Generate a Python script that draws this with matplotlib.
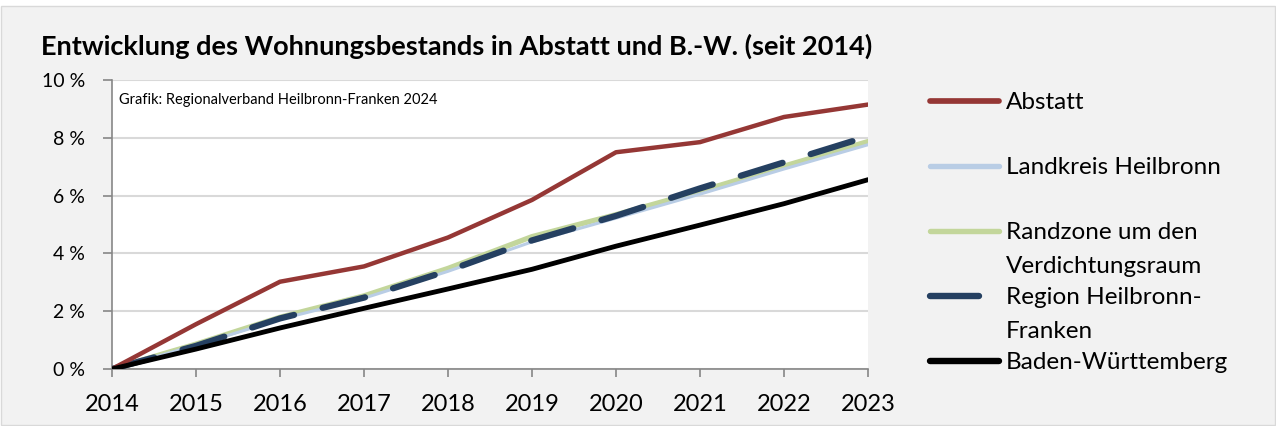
import matplotlib
matplotlib.use("Agg")
import matplotlib.pyplot as plt
from matplotlib.patches import Rectangle

years = [2014, 2015, 2016, 2017, 2018, 2019, 2020, 2021, 2022, 2023]
abstatt = [0.0, 1.55, 3.02, 3.55, 4.55, 5.85, 7.5, 7.85, 8.72, 9.15]
landkreis = [0.0, 0.82, 1.72, 2.45, 3.38, 4.4, 5.22, 6.05, 6.92, 7.76]
randzone = [0.0, 0.86, 1.79, 2.53, 3.48, 4.58, 5.34, 6.15, 7.02, 7.87]
region = [0.0, 0.8, 1.75, 2.47, 3.4, 4.45, 5.3, 6.25, 7.15, 8.05]
bw = [0.0, 0.69, 1.42, 2.1, 2.77, 3.45, 4.25, 4.98, 5.72, 6.55]
y_ticks = [0, 2, 4, 6, 8, 10]

series_labels = ["Abstatt", "Landkreis Heilbronn", "Randzone um den\nVerdichtungsraum",
                 "Region Heilbronn-\nFranken", "Baden-Württemberg"]

C_RED = "#953735"
C_LBLUE = "#b9cde5"
C_GREEN = "#c3d69b"
C_NAVY = "#254061"
C_BLACK = "#000000"
BG = "#f2f2f2"

plt.rcParams["font.family"] = ["Lato", "DejaVu Sans"]

W, H = 1276, 426
fig = plt.figure(figsize=(W / 100, H / 100), dpi=100, facecolor="white")

# chart frame (Excel chart area)
frame = fig.add_axes([0, 0, 1, 1], zorder=-10)
frame.set_xlim(0, W)
frame.set_ylim(H, 0)
frame.axis("off")
frame.add_patch(Rectangle((1, 6), W - 2, H - 7, facecolor=BG, edgecolor="#d9d9d9", lw=1))

ax = fig.add_axes([112 / W, 1 - 369 / H, (868 - 112) / W, (369 - 80) / H])
ax.set_facecolor("white")

ax.plot(years, abstatt, color=C_RED, lw=3.2, solid_capstyle="round", zorder=5)
ax.plot(years, landkreis, color=C_LBLUE, lw=2.2, solid_capstyle="round", zorder=3)
ax.plot(years, randzone, color=C_GREEN, lw=3.8, solid_capstyle="round", zorder=2)
ax.plot(years, region, color=C_NAVY, lw=4.5, dashes=(7.0, 4.7), dash_capstyle="round", zorder=4)
ax.plot(years, bw, color=C_BLACK, lw=3.5, solid_capstyle="round", zorder=6)

ax.set_xlim(years[0], years[-1])
ax.set_ylim(0, 10)
ax.set_xticks(years)
ax.set_yticks(y_ticks)
ax.set_yticklabels([f"{v} %" for v in y_ticks])
ax.grid(axis="y", color="#d9d9d9", lw=1.5, zorder=0)
ax.set_axisbelow(True)
for s in ["top", "right"]:
    ax.spines[s].set_visible(False)
for s in ["left", "bottom"]:
    ax.spines[s].set_color("#878787")
    ax.spines[s].set_linewidth(1.2)
ax.tick_params(axis="y", length=6.5, width=1.2, color="#878787", labelsize=14, pad=13)
ax.tick_params(axis="x", length=6, width=1.2, color="#878787", labelsize=17, pad=12)

ax.text(7 / 756, 1 - 24 / 289, "Grafik: Regionalverband Heilbronn-Franken 2024", transform=ax.transAxes,
        fontsize=10.5, va="baseline", ha="left")

fig.text(41 / W, 1 - 54.3 / H, "Entwicklung des Wohnungsbestands in Abstatt und B.-W. (seit 2014)",
         fontsize=19.5, fontweight="bold", ha="left", va="baseline")

# manual legend (Excel-style: handle aligned with first text line)
lax = fig.add_axes([0, 0, 1, 1])
lax.set_xlim(0, W)
lax.set_ylim(H, 0)
lax.axis("off")
leg_y = [101, 166, 231, 296, 361]
leg_style = [
    dict(color=C_RED, lw=4.1),
    dict(color=C_LBLUE, lw=3.9),
    dict(color=C_GREEN, lw=3.9),
    dict(color=C_NAVY, lw=4.6),
    dict(color=C_BLACK, lw=4.6),
]
for i, (yy, lab, st) in enumerate(zip(leg_y, series_labels, leg_style)):
    x1 = 979 if i == 3 else 999
    lax.plot([930, x1], [yy, yy], solid_capstyle="round", **st)
    for k, line in enumerate(lab.split("\n")):
        lax.text(1006, yy + 8 + k * 33.7, line, fontsize=17.5, ha="left", va="baseline")

fig.savefig("out.png", dpi=100, facecolor="white")
